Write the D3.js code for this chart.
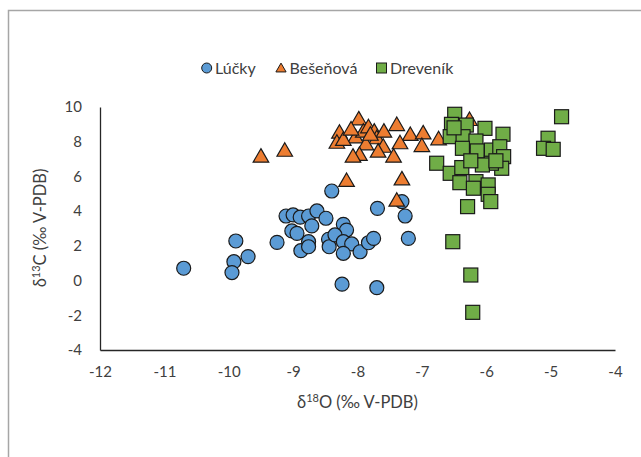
<!DOCTYPE html>
<html><head><meta charset="utf-8">
<script src="https://cdn.jsdelivr.net/npm/d3@7"></script>
<style>body{margin:0;background:#fff}svg{display:block}text{font-family:Lato,"Open Sans",sans-serif;fill:#404040}</style>
</head><body>
<svg id="c" width="641" height="457"></svg>
<script>
const seriesNames = ["Lúčky", "Bešeňová", "Dreveník"];
const xTicks = [-12,-11,-10,-9,-8,-7,-6,-5,-4];
const yTicks = [-4,-2,0,2,4,6,8,10];

const luckyX = [-10.70,-9.89,-9.92,-9.95,-9.70,-9.25,-9.11,-9.00,-8.89,-8.76,-8.63,-8.49,-8.71,-9.02,-8.94,-8.76,-8.88,-8.76,-8.40,-8.22,-8.17,-8.45,-8.44,-8.35,-8.22,-8.09,-8.22,-7.96,-7.83,-7.75,-7.69,-7.31,-7.26,-7.21,-8.24,-7.70];
const luckyY = [0.71,2.28,1.09,0.46,1.38,2.20,3.72,3.78,3.65,3.72,4.01,3.59,3.15,2.86,2.72,2.24,1.72,1.95,5.16,3.24,2.91,2.38,1.95,2.63,2.24,2.11,1.57,1.66,2.18,2.43,4.16,4.55,3.72,2.43,-0.21,-0.41];

const beseX = [-9.50,-9.13,-8.17,-7.31,-7.39,-7.98,-8.28,-8.32,-8.03,-7.91,-7.83,-7.74,-7.70,-7.59,-7.39,-7.18,-6.98,-7.87,-7.60,-7.34,-7.00,-7.97,-8.07,-7.68,-7.44,-6.74,-6.26,-8.22,-7.80,-8.10];
const beseY = [7.14,7.48,5.74,5.83,4.60,9.29,8.52,7.94,8.25,8.58,8.83,8.58,8.20,8.58,8.96,8.39,8.48,7.85,7.71,7.91,7.75,7.24,7.14,7.43,7.14,8.14,9.25,8.10,8.40,8.70];

const drevX = [-4.83,-5.04,-5.11,-4.96,-6.49,-6.54,-6.31,-6.02,-5.74,-6.56,-6.36,-6.16,-6.37,-6.14,-5.92,-5.79,-5.73,-5.76,-5.92,-6.06,-6.77,-6.56,-6.38,-6.41,-6.16,-6.20,-5.97,-5.97,-5.93,-6.29,-6.52,-6.24,-6.21,-6.50,-6.24,-5.85];
const drevY = [9.44,8.20,7.62,7.56,9.58,9.00,8.96,8.77,8.43,8.29,8.29,8.04,7.62,7.47,7.52,7.71,7.14,6.47,6.76,6.66,6.76,6.18,6.51,5.64,5.70,5.32,5.51,4.97,4.55,4.26,2.24,0.32,-1.83,8.80,6.90,6.90];

const colors = ["#5B9BD5", "#ED7D31", "#70AD47"];

const svg = d3.select("#c");
svg.append("rect").attr("x",8.5).attr("y",10.5).attr("width",700).attr("height",500)
  .attr("fill","#fff").attr("stroke","#a6a6a6").attr("stroke-width",1.5);

const x = d3.scaleLinear().domain([-12,-4]).range([100,615]);
const y = d3.scaleLinear().domain([-4,10]).range([350,107]);

const xa = svg.append("g").attr("transform","translate(0,350)")
  .call(d3.axisBottom(x).tickValues(xTicks).tickSize(0).tickPadding(16).tickFormat(d=>d));
const ya = svg.append("g").attr("transform","translate(100,0)")
  .call(d3.axisLeft(y).tickValues(yTicks).tickSize(0).tickPadding(18).tickFormat(d=>d));
[xa,ya].forEach(g=>{
  g.select(".domain").attr("stroke","#262626").attr("stroke-width",1.3);
  g.selectAll("text").attr("font-size",15).attr("fill","#404040").attr("font-family","Lato, sans-serif");
});

const xt = svg.append("text").attr("x",357.5).attr("y",408).attr("text-anchor","middle").attr("font-size",16.5);
xt.append("tspan").text("δ");
xt.append("tspan").attr("font-size",11).attr("dy",-6).text("18");
xt.append("tspan").attr("dy",6).text("O (‰ V-PDB)");
const yt = svg.append("text").attr("transform","translate(46,228) rotate(-90)").attr("text-anchor","middle").attr("font-size",16.5);
yt.append("tspan").text("δ");
yt.append("tspan").attr("font-size",11).attr("dy",-6).text("13");
yt.append("tspan").attr("dy",6).text("C (‰ V-PDB)");

const tri = d3.symbol().type(d3.symbolTriangle).size(105);
const stroke = "#1a1a1a";

svg.append("g").selectAll("circle").data(d3.range(luckyX.length)).join("circle")
  .attr("cx",i=>x(luckyX[i])).attr("cy",i=>y(luckyY[i])).attr("r",7)
  .attr("fill",colors[0]).attr("stroke",stroke).attr("stroke-width",1.2);
svg.append("g").selectAll("path").data(d3.range(beseX.length)).join("path")
  .attr("d",tri).attr("transform",i=>`translate(${x(beseX[i])},${y(beseY[i])+1})`)
  .attr("fill",colors[1]).attr("stroke",stroke).attr("stroke-width",1.2);
svg.append("g").selectAll("rect").data(d3.range(drevX.length)).join("rect")
  .attr("x",i=>x(drevX[i])-7).attr("y",i=>y(drevY[i])-7).attr("width",14).attr("height",14)
  .attr("fill",colors[2]).attr("stroke",stroke).attr("stroke-width",1.2);

const lg = svg.append("g");
const legendItems = [{mx:206.7, tx:215},{mx:281, tx:289.5},{mx:381.5, tx:390}];
legendItems.forEach((it,i)=>{
  if(i===0) lg.append("circle").attr("cx",it.mx).attr("cy",68).attr("r",5).attr("fill",colors[0]).attr("stroke",stroke);
  if(i===1) lg.append("path").attr("d",d3.symbol().type(d3.symbolTriangle).size(45)).attr("transform",`translate(${it.mx},69)`).attr("fill",colors[1]).attr("stroke",stroke);
  if(i===2) lg.append("rect").attr("x",it.mx-5).attr("y",63).attr("width",10).attr("height",10).attr("fill",colors[2]).attr("stroke",stroke);
  lg.append("text").attr("x",it.tx).attr("y",73.5).attr("font-size",16).text(seriesNames[i]);
});
</script>
</body></html>
